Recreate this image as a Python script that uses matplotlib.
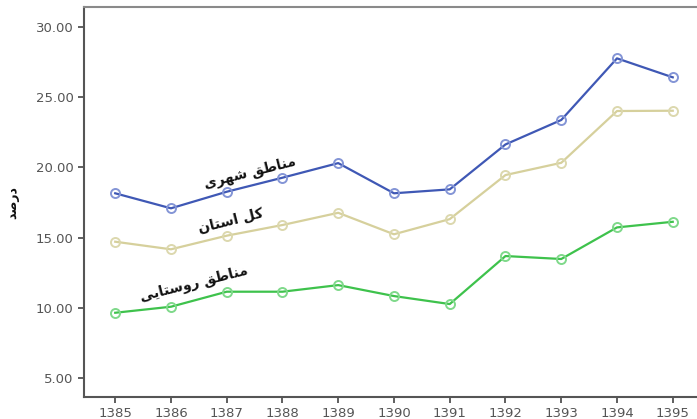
import matplotlib
matplotlib.use("Agg")
import matplotlib.pyplot as plt

years = [1385, 1386, 1387, 1388, 1389, 1390, 1391, 1392, 1393, 1394, 1395]
urban = [18.16, 17.09, 18.27, 19.27, 20.31, 18.16, 18.44, 21.64, 23.38, 27.77, 26.42]
province = [14.71, 14.17, 15.14, 15.90, 16.77, 15.24, 16.32, 19.46, 20.33, 24.02, 24.04]
rural = [9.65, 10.08, 11.15, 11.15, 11.62, 10.84, 10.27, 13.69, 13.48, 15.73, 16.13]
yticks = [5, 10, 15, 20, 25, 30]

label_urban = "مناطق شهری"
label_province = "کل استان"
label_rural = "مناطق روستایی"
ylabel = "درصد"

# minimal Arabic/Persian shaping (isolated, final, initial, medial)
FORMS = {
    "ا": ("\uFE8D", "\uFE8E", None, None),
    "د": ("\uFEA9", "\uFEAA", None, None),
    "ر": ("\uFEAD", "\uFEAE", None, None),
    "و": ("\uFEED", "\uFEEE", None, None),
    "م": ("\uFEE1", "\uFEE2", "\uFEE3", "\uFEE4"),
    "ن": ("\uFEE5", "\uFEE6", "\uFEE7", "\uFEE8"),
    "ط": ("\uFEC1", "\uFEC2", "\uFEC3", "\uFEC4"),
    "ق": ("\uFED5", "\uFED6", "\uFED7", "\uFED8"),
    "ش": ("\uFEB5", "\uFEB6", "\uFEB7", "\uFEB8"),
    "ه": ("\uFEE9", "\uFEEA", "\uFEEB", "\uFEEC"),
    "ی": ("\uFBFC", "\uFBFD", "\uFBFE", "\uFBFF"),
    "ک": ("\uFB8E", "\uFB8F", "\uFB90", "\uFB91"),
    "ل": ("\uFEDD", "\uFEDE", "\uFEDF", "\uFEE0"),
    "س": ("\uFEB1", "\uFEB2", "\uFEB3", "\uFEB4"),
    "ت": ("\uFE95", "\uFE96", "\uFE97", "\uFE98"),
    "ص": ("\uFEB9", "\uFEBA", "\uFEBB", "\uFEBC"),
}


def shape(text):
    out = []
    for i, ch in enumerate(text):
        if ch not in FORMS:
            out.append(ch)
            continue
        prev = text[i - 1] if i > 0 else None
        nxt = text[i + 1] if i + 1 < len(text) else None
        join_prev = prev in FORMS and FORMS[prev][2] is not None
        join_next = nxt in FORMS and FORMS[ch][2] is not None
        iso, fin, ini, med = FORMS[ch]
        if join_prev and join_next:
            out.append(med)
        elif join_prev:
            out.append(fin)
        elif join_next:
            out.append(ini)
        else:
            out.append(iso)
    return "".join(out)[::-1]


plt.rcParams["font.family"] = ["DejaVu Sans"]

fig = plt.figure(figsize=(6.97, 4.19), dpi=100)
ax = fig.add_axes([0.1205, 0.0525, 0.8895, 0.9305])

c_blue = "#3f58b5"
c_beige = "#d6d09c"
c_green = "#3ec24c"
mk_blue = "#8495d6"
mk_beige = "#dcd8ae"
mk_green = "#7fd98a"

for vals, c, mc in [(urban, c_blue, mk_blue), (province, c_beige, mk_beige), (rural, c_green, mk_green)]:
    ax.plot(years, vals, color=c, lw=1.6, marker="o", ms=6.5, mfc="none",
            mec=mc, mew=1.4, zorder=3)

ax.set_xlim(1384.44, 1395.56)
ax.set_ylim(3.65, 31.42)
ax.set_xticks(years)
ax.set_xticklabels([str(y) for y in years])
ax.set_yticks(yticks)
ax.set_yticklabels([f"{v:.2f}" for v in yticks])
ax.tick_params(axis="both", direction="out", length=4, width=1.2, color="#444444",
               labelsize=9.5, labelcolor="#555555")
ax.tick_params(axis="x", pad=3)

for s in ["left", "bottom"]:
    ax.spines[s].set_color("#555555")
    ax.spines[s].set_linewidth(1.5)
ax.spines["top"].set_color("#8a8a8a")
ax.spines["top"].set_linewidth(1.5)
ax.spines["right"].set_visible(False)

ax.set_ylabel(shape(ylabel), fontsize=9, fontweight="bold",
              color="#111111", labelpad=12)

ax.text(1387.42, 19.67, shape(label_urban), fontsize=10,
        fontweight="bold", rotation=14, ha="center", va="center", color="#111111")
ax.text(1387.08, 16.25, shape(label_province), fontsize=10,
        fontweight="bold", rotation=14, ha="center", va="center", color="#111111")
ax.text(1386.42, 11.77, shape(label_rural), fontsize=10,
        fontweight="bold", rotation=14, ha="center", va="center", color="#111111")

fig.savefig("out.png", dpi=100)
